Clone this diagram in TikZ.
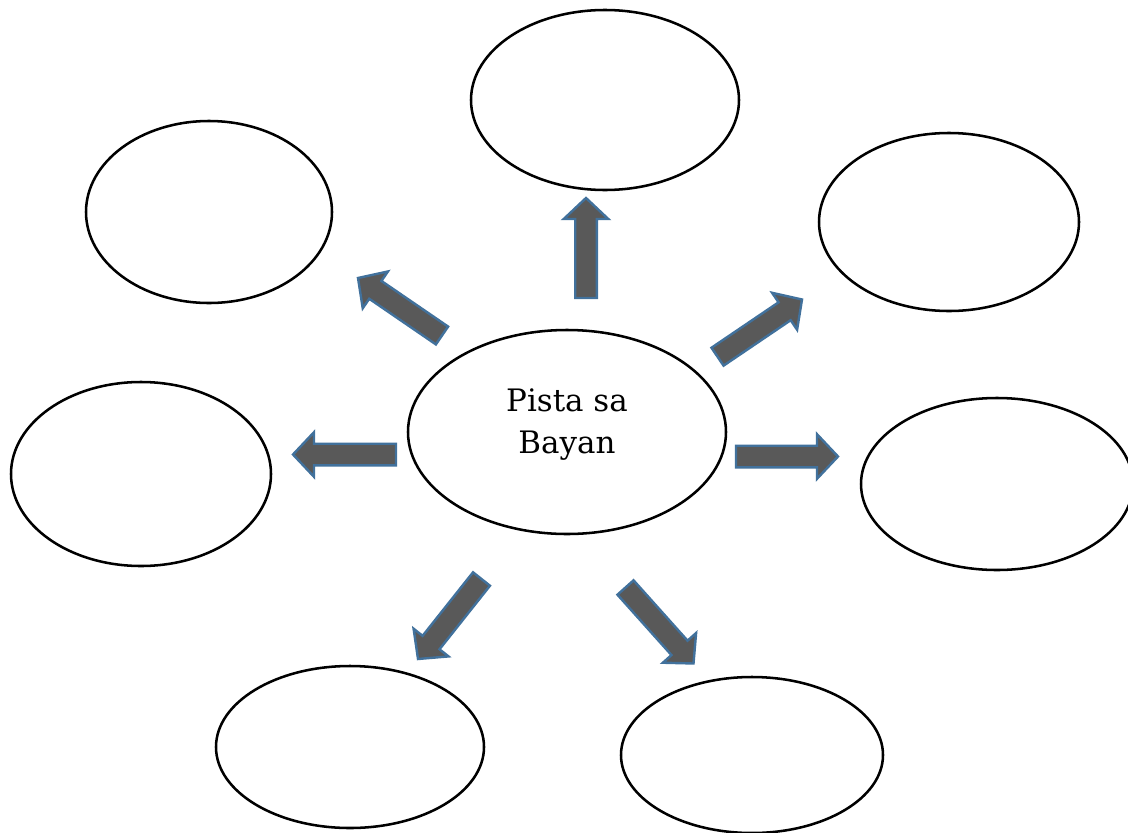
\documentclass[tikz,border=0pt]{standalone}
\usepackage{fontspec}
\newfontfamily\hubfont{DejaVu Serif}
\usetikzlibrary{shapes.geometric,calc}
\definecolor{arrfill}{HTML}{595959}
\definecolor{arrline}{HTML}{41719C}
\newcommand\sw{10.8}
\newcommand\hw{22.3}
\newcommand\hl{21}
\newcommand\blockarr[3]{%
  \coordinate (#1b) at ($(#3)!\hl*0.75pt!(#2)$);
  \draw[barrow] ($(#2)!\sw*0.75pt!90:(#3)$) -- ($(#1b)!\sw*0.75pt!90:(#3)$)
    -- ($(#1b)!\hw*0.75pt!90:(#3)$) -- (#3) -- ($(#1b)!\hw*0.75pt!-90:(#3)$)
    -- ($(#1b)!\sw*0.75pt!-90:(#3)$) -- ($(#2)!\sw*0.75pt!-90:(#3)$) -- cycle;}
\begin{document}
\begin{tikzpicture}[x=0.75pt,y=-0.75pt,
  bubble/.style={draw=black,line width=1.9pt,ellipse,inner sep=0pt,fill=white},
  barrow/.style={fill=arrfill,draw=arrline,line width=1.8pt,line join=miter}]
\useasboundingbox (0,0) rectangle (1128,832);
\fill[white] (0,0) rectangle (1128,832);
% outer ellipses
\node[bubble,minimum width=201pt,minimum height=135pt] (top) at (605,100) {};
\node[bubble,minimum width=184.5pt,minimum height=136.5pt] (ul) at (209,212) {};
\node[bubble,minimum width=195pt,minimum height=133.5pt] (ur) at (949,222) {};
\node[bubble,minimum width=195pt,minimum height=138pt] (lf) at (141,474) {};
\node[bubble,minimum width=204pt,minimum height=129pt] (rt) at (997,484) {};
\node[bubble,minimum width=201pt,minimum height=121.5pt] (bl) at (350,747) {};
\node[bubble,minimum width=196.5pt,minimum height=117pt] (br) at (752,755) {};
% hub
\node[bubble,minimum width=238.5pt,minimum height=153pt] (hub) at (567,432) {};
\node[align=center,inner sep=0pt,font=\hubfont\fontsize{23.2}{31.5}\selectfont] (hubtext) at (567,424.5) {Pista sa\\Bayan};
% arrow end points
\coordinate (upT) at (586,298);   \coordinate (upH) at (586,198);
\coordinate (ulT) at (442,335.5); \coordinate (ulH) at (358,278);
\coordinate (urT) at (717.5,356.7); \coordinate (urH) at (802,299.5);
\coordinate (rtT) at (736,456.5); \coordinate (rtH) at (838,456.5);
\coordinate (lfT) at (396,454.5); \coordinate (lfH) at (293,454.5);
\coordinate (blT) at (481.5,579); \coordinate (blH) at (418,659);
\coordinate (brT) at (625.5,587.5); \coordinate (brH) at (693.5,663.5);
\blockarr{aup}{upT}{upH}
\blockarr{aul}{ulT}{ulH}
\blockarr{aur}{urT}{urH}
\blockarr{art}{rtT}{rtH}
\blockarr{alf}{lfT}{lfH}
\blockarr{abl}{blT}{blH}
\blockarr{abr}{brT}{brH}
\end{tikzpicture}
\end{document}
